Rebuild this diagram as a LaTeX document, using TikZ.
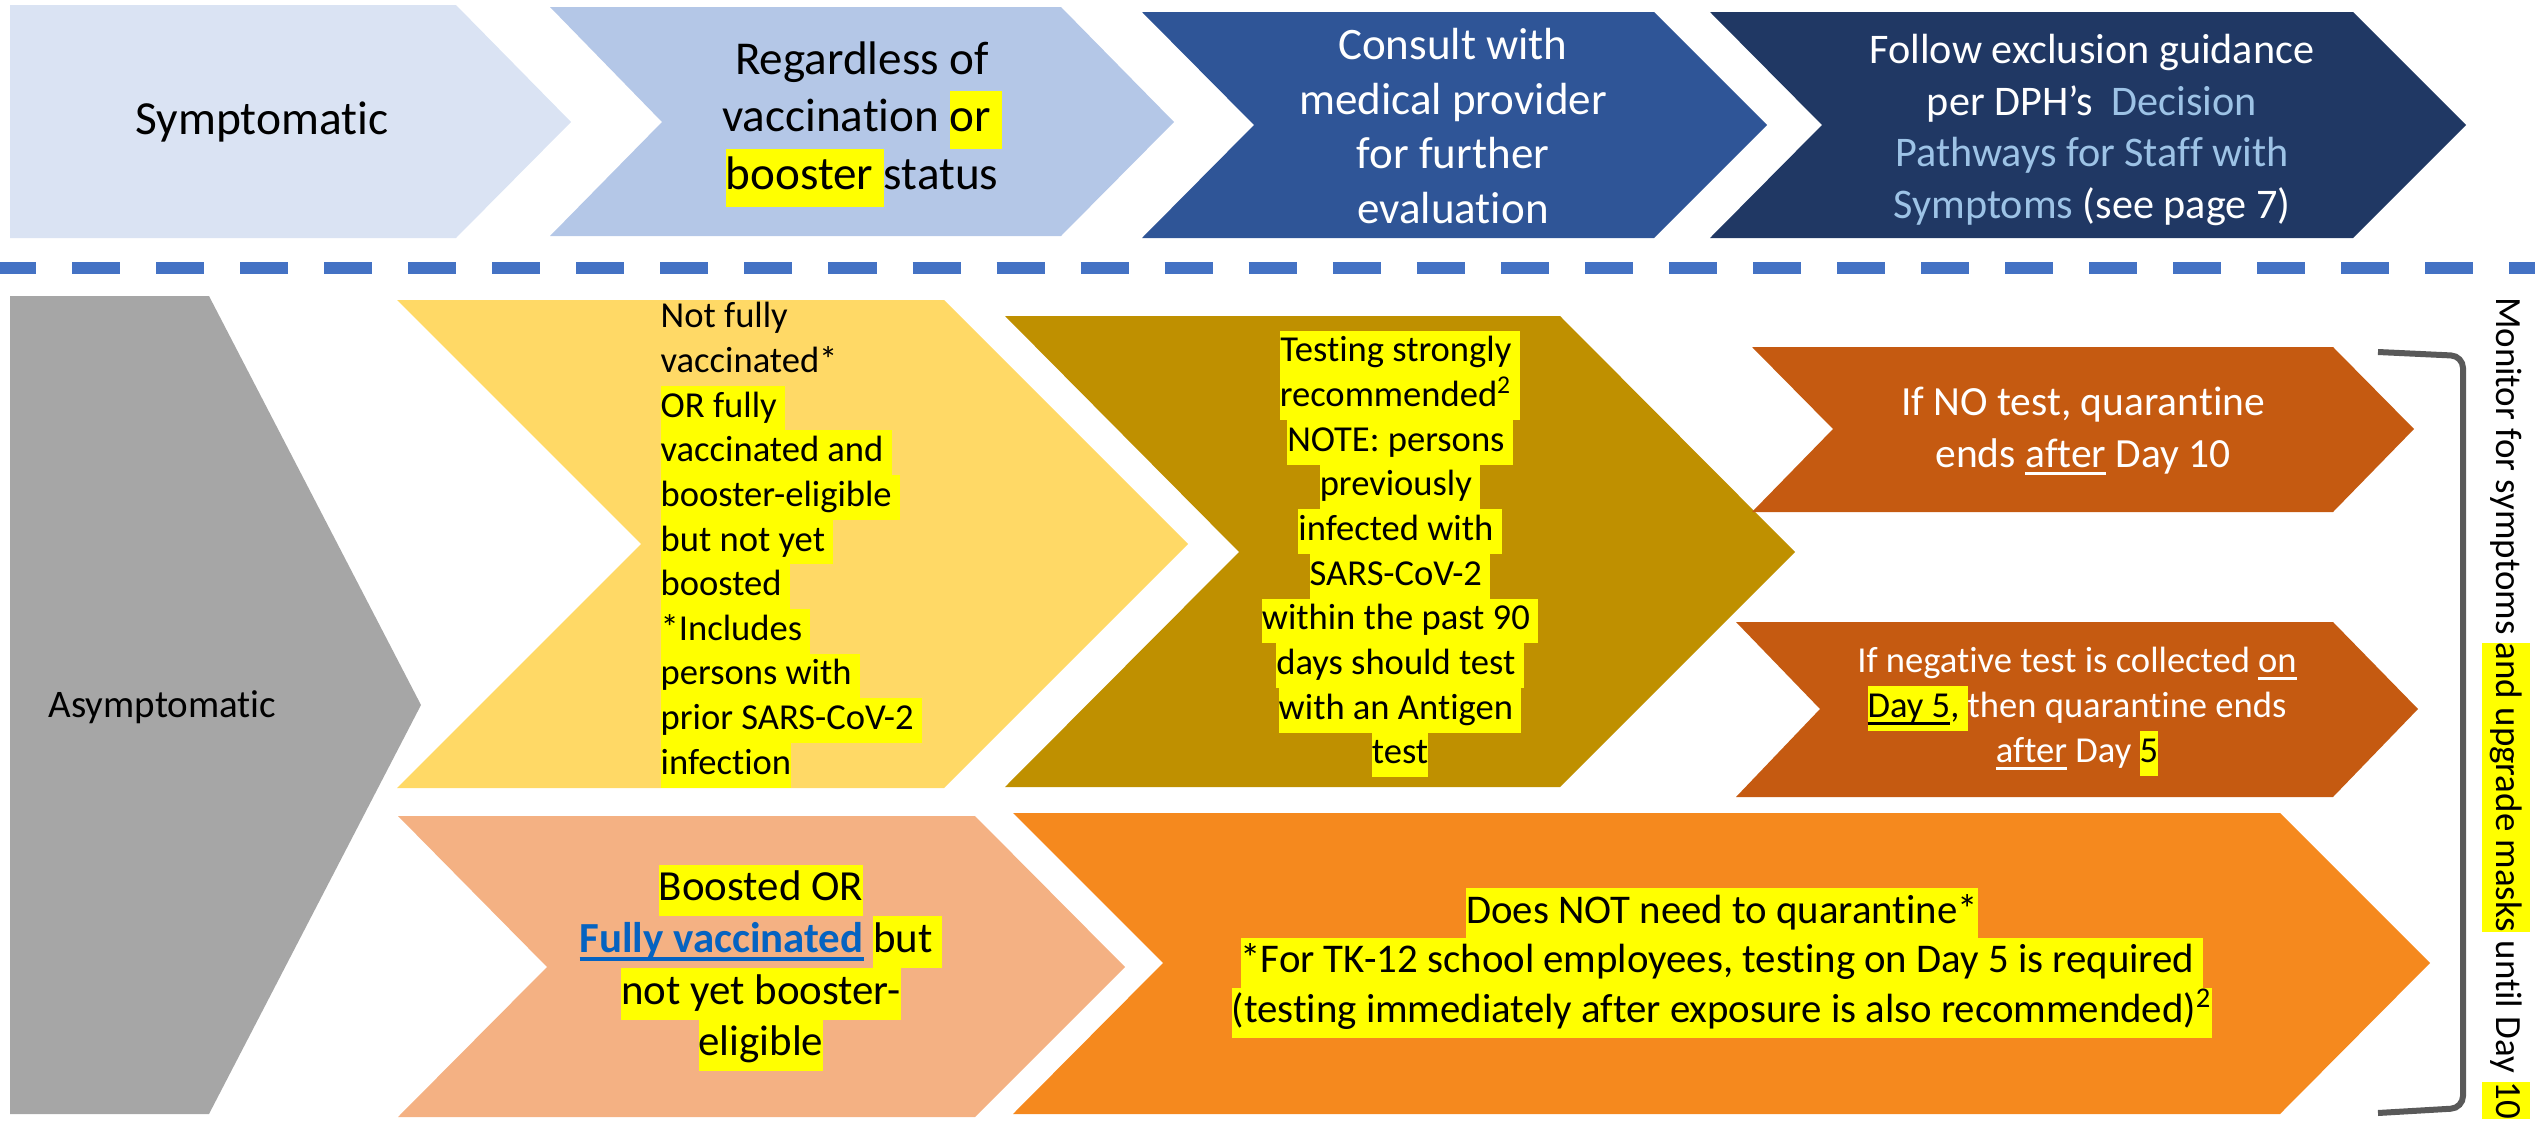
\documentclass[tikz,border=0pt]{standalone}
\usepackage{fontspec}
\setmainfont{Carlito}[Ligatures=NoCommon]
\definecolor{cSym}{HTML}{DAE3F3}
\definecolor{cReg}{HTML}{B4C7E7}
\definecolor{cCons}{HTML}{2F5597}
\definecolor{cFol}{HTML}{203864}
\definecolor{cDash}{HTML}{4472C4}
\definecolor{cGray}{HTML}{A6A6A6}
\definecolor{cYel}{HTML}{FFD966}
\definecolor{cOlive}{HTML}{BF9000}
\definecolor{cRed}{HTML}{C55A11}
\definecolor{cPeach}{HTML}{F4B183}
\definecolor{cOrange}{HTML}{F5891E}
\definecolor{cBrk}{HTML}{595959}
\definecolor{cLinkL}{HTML}{9DC3E6}
\definecolor{cLink}{HTML}{0563C1}
\definecolor{hly}{HTML}{FFFF00}
\newcommand\fsz[2]{\fontsize{#1}{#2}\selectfont}
\newcommand\hl[1]{{\setlength{\fboxsep}{0pt}\colorbox{hly}{\strut #1}}}
\newcommand\uln[1]{\leavevmode\setbox0\hbox{#1}\rlap{\vrule height -0.11em depth 0.19em width\wd0}\box0\relax}
\begin{document}
\begin{tikzpicture}[x=0.01cm,y=-0.01cm,
  txt/.style={inner sep=0pt, align=center},
  bracketline/.style={draw=cBrk, line width=0.06cm, rounded corners=0.12cm}]
\useasboundingbox (0,0) rectangle (2535,1124);
% top row
\fill[cSym] (10,5) -- (456,5) -- (571,122) -- (456,238) -- (10,238) -- cycle;
\fill[cReg] (550,7) -- (1061,7) -- (1174,122) -- (1061,236) -- (550,236) -- (662,122) -- cycle;
\fill[cCons] (1142,12) -- (1654,12) -- (1767,125) -- (1654,238) -- (1142,238) -- (1254,125) -- cycle;
\fill[cFol] (1710,12) -- (2353,12) -- (2466,125) -- (2353,238) -- (1710,238) -- (1822,125) -- cycle;
% dashed separator
\draw[cDash, line width=0.12cm, dash pattern=on 0.48cm off 0.36cm, dash phase=0.12cm] (0,268) -- (2535,268);
% bottom section
\fill[cGray] (10,296) -- (209,296) -- (421,705) -- (209,1114) -- (10,1114) -- cycle;
\fill[cYel] (397,300) -- (944,300) -- (1188,544) -- (944,788) -- (397,788) -- (641,544) -- cycle;
\fill[cOlive] (1005,316) -- (1560,316) -- (1795,552) -- (1560,787) -- (1005,787) -- (1239,552) -- cycle;
\fill[cRed] (1752,347) -- (2333,347) -- (2414,429) -- (2333,512) -- (1752,512) -- (1833,429) -- cycle;
\fill[cRed] (1736,622) -- (2333,622) -- (2418,709) -- (2333,797) -- (1736,797) -- (1820,709) -- cycle;
\fill[cPeach] (398,816) -- (975,816) -- (1125,967) -- (975,1117) -- (398,1117) -- (547,967) -- cycle;
\fill[cOrange] (1013,813) -- (2280,813) -- (2430,963) -- (2280,1114) -- (1013,1114) -- (1163,963) -- cycle;
% bracket
\coordinate (brTop) at (2378,352);
\coordinate (brBot) at (2378,1113);
\draw[bracketline] (brTop) -- (2463,356) -- (2463,1108) -- (brBot);
% texts
\node[txt, font=\fsz{13.5}{16.5}] (sym) at (262,122) {Symptomatic};
\node[txt, font=\fsz{13.4}{16.4}] (reg) at (862,124)
  {Regardless of\\vaccination \hl{or }\\\hl{booster }status};
\node[txt, text=white, font=\fsz{12.8}{15.6}] (cons) at (1453,126)
  {Consult with\\medical provider\\for further\\evaluation};
\node[txt, text=white, font=\fsz{12}{14.7}] (follow) at (2092,130)
  {Follow exclusion guidance\\per DPH’s \ {\color{cLinkL}Decision}\\{\color{cLinkL}Pathways for Staff with}\\{\color{cLinkL}Symptoms} (see page 7)};
\node[txt, anchor=west, font=\fsz{11.1}{13.5}] (asym) at (48,707) {Asymptomatic};
\node[txt, align=left, anchor=west, font=\fsz{10.4}{12.7}] (notfully) at (660,545)
  {Not fully\\vaccinated*\\\hl{OR fully }\\\hl{vaccinated and }\\\hl{booster-eligible }\\\hl{but not yet }\\\hl{boosted }\\\hl{*Includes }\\\hl{persons with }\\\hl{prior SARS-CoV-2 }\\\hl{infection}};
\node[txt, font=\fsz{10.4}{12.7}] (testing) at (1400,554)
  {\hl{Testing strongly }\\\hl{recommended\textsuperscript{2} }\\\hl{NOTE: persons }\\\hl{previously }\\\hl{infected with }\\\hl{SARS-CoV-2 }\\\hl{within the past 90 }\\\hl{days should test }\\\hl{with an Antigen }\\\hl{test}};
\node[txt, text=white, font=\fsz{11.8}{14.8}] (notest) at (2083,431)
  {If NO test, quarantine\\ends \uln{after} Day 10};
\node[txt, text=white, font=\fsz{10.4}{12.8}] (negtest) at (2077,712)
  {If negative test is collected \uln{on}\\\hl{\color{black}\uln{Day 5}, }then quarantine ends\\\uln{after} Day \hl{\color{black}5}};
\node[txt, font=\fsz{12.2}{14.7}] (boosted) at (761,968)
  {\hl{Boosted OR}\\{\color{cLink}\bfseries\uln{Fully vaccinated}} \hl{but }\\\hl{not yet booster-}\\\hl{eligible}};
\node[txt, font=\fsz{11.6}{14.2}] (doesnot) at (1722,963)
  {\hl{Does NOT need to quarantine*}\\\hl{*For TK-12 school employees, testing on Day 5 is required }\\\hl{(testing immediately after exposure is also recommended)\textsuperscript{2}}};
\node[txt, rotate=-90, font=\fsz{10.5}{13.5}] (monitor) at (2506,708)
  {Monitor for symptoms \hl{and upgrade masks} until Day \hl{10}};
\end{tikzpicture}
\end{document}
